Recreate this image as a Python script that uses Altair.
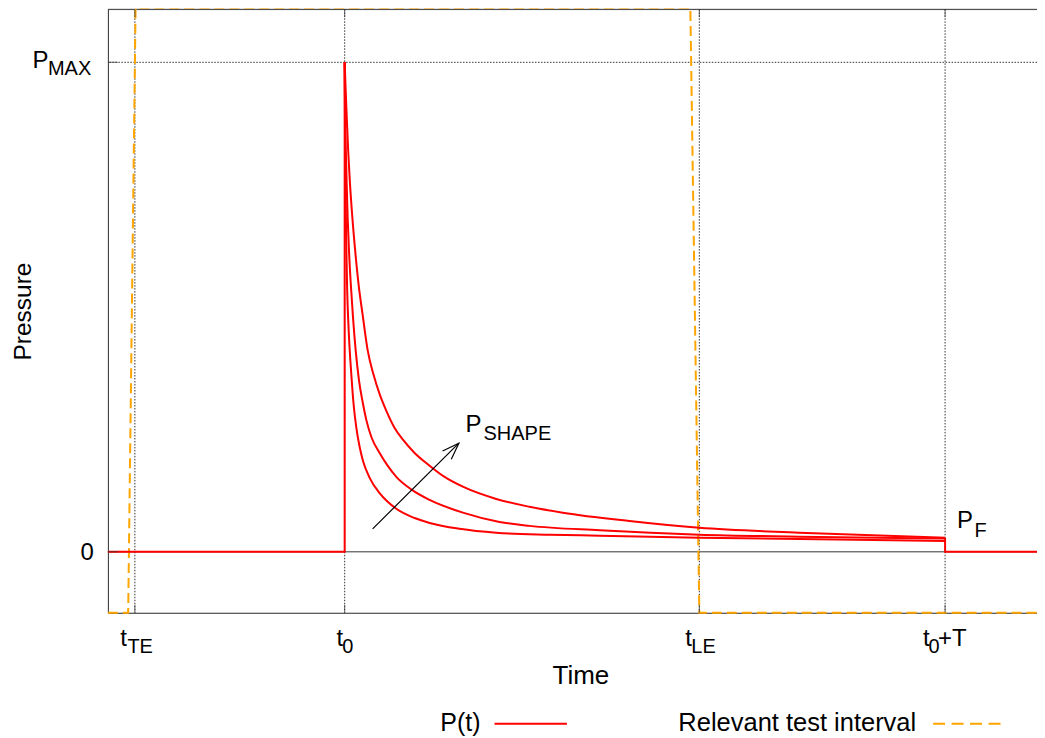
import altair as alt
import pandas as pd

FONT = "Liberation Sans"

# ---- axis ranges (arbitrary time units, pressure in % of P_MAX)
X_MIN, X_MAX = 0.0, 930.0
Y_MIN, Y_MAX = -12.45, 110.82

# ---- x ticks
tick_values = [27, 237, 592, 838]
tick_main = ["t", "t", "t", "t"]
tick_sub = ["TE", "0", "LE", "0"]
tick_main_dx = [-8, -1.5, -7.5, -15.5]
tick_sub_dx = [-7.5, -2.5, -8, -16.5]

# ---- y ticks
ytick_values = [0.0, 100.0]
P_MAX = 100.0

# ---- pressure curves (three shapes)
top_t = [237, 238, 239, 240.5, 242, 244.5, 247, 251, 255, 260, 266, 272, 278.7,
         287, 295.3, 307, 322, 337, 355.3, 388.7, 422, 455.3, 522, 592, 692, 838]
top_p = [100, 94.3, 89.2, 82.0, 76.3, 68.8, 62.7, 54.5, 48.4, 41.2, 36.1, 32.2, 28.8,
         25.3, 22.9, 20.2, 17.6, 15.3, 13.3, 10.8, 9.2, 8.0, 6.3, 4.9, 3.9, 2.9]
mid_t = [237, 237.5, 238.2, 239, 240, 241.3, 243, 245.3, 248, 251.3, 255, 258.7,
         264, 272, 280, 288.7, 304, 322, 355.3, 392, 422, 492, 592, 692, 838]
mid_p = [100, 88.8, 81.6, 75.3, 68.2, 61.6, 55.1, 48.0, 41.2, 35.1, 30.6, 26.9,
         23.3, 20.2, 17.6, 15.3, 12.7, 10.6, 8.0, 6.1, 5.3, 4.4, 3.5, 3.1, 2.7]
bot_t = [237, 237.3, 237.8, 238.5, 239.5, 241, 243.7, 246, 248.7, 252, 255.3, 262,
         272, 288.7, 307, 322, 352, 388.7, 442, 492, 592, 692, 838]
bot_p = [100, 88.2, 75.9, 63.7, 53.5, 45.3, 36.1, 30.0, 25.3, 21.4, 18.6, 15.1,
         12.0, 8.8, 6.9, 5.9, 4.7, 3.9, 3.5, 3.3, 2.9, 2.6, 2.2]

# ---- step parts of P(t)
pre_t = [0, 237, 237]
pre_p = [0, 0, 100]
post_t = [838, 838, 930]
post_p = [2.9, 0, 0]

# ---- relevant test interval (dashed)
int_t = [0, 20.3, 27.7, 583, 592, 930]
int_p = [Y_MIN, Y_MIN, 111.2, 111.2, Y_MIN, Y_MIN]

# ---- P_SHAPE arrow
arrow_t = [265, 351.3]
arrow_p = [4.7, 22.2]
head_t = [335, 351.3, 343.7]
head_p = [20.6, 22.2, 18.9]

# ---- legend
legend_labels = ["P(t)", "Relevant test interval"]

RED = "#ff0000"
ORANGE = "#ffa500"
GRID = "#333333"
FRAME = "#333333"

xs = alt.Scale(domain=[X_MIN, X_MAX], nice=False, zero=False)
ys = alt.Scale(domain=[Y_MIN, Y_MAX], nice=False, zero=False)
xaxis = alt.Axis(domain=True, domainColor=FRAME, domainWidth=1, ticks=False,
                 labels=False, grid=False, title="Time", titleFont=FONT,
                 titleFontSize=26, titleFontWeight="normal", titleColor="black",
                 titleX=473, titleY=71, titleBaseline="alphabetic",
                 titleAlign="center")
yaxis = alt.Axis(domain=True, domainColor=FRAME, domainWidth=1, ticks=False,
                 labels=False, grid=False, title="Pressure", titleFont=FONT,
                 titleFontSize=24.5, titleFontWeight="normal", titleColor="black",
                 titleAngle=270, titleX=-77, titleY=302,
                 titleBaseline="alphabetic", titleAlign="center")


def X(field="t"):
    return alt.X(f"{field}:Q", scale=xs, axis=xaxis)


def Y(field="p"):
    return alt.Y(f"{field}:Q", scale=ys, axis=yaxis)


def df(t, p, **kw):
    d = pd.DataFrame({"t": t, "p": p, "i": list(range(len(t)))})
    for k, v in kw.items():
        d[k] = v
    return d


layers = []

# dotted grid
layers.append(alt.Chart(pd.DataFrame({"t": tick_values})).mark_rule(
    color=GRID, strokeDash=[1.5, 1.5], strokeWidth=1).encode(x=X()))
layers.append(alt.Chart(pd.DataFrame({"p": [P_MAX]})).mark_rule(
    color=GRID, strokeDash=[1.5, 1.5], strokeWidth=1).encode(y=Y()))
# zero axis
layers.append(alt.Chart(pd.DataFrame({"p": [0.0]})).mark_rule(
    color=FRAME, strokeWidth=1).encode(y=Y()))
# top frame
layers.append(alt.Chart(pd.DataFrame({"p": [Y_MAX]})).mark_rule(
    color=FRAME, strokeWidth=1).encode(y=Y()))

# relevant test interval
layers.append(alt.Chart(df(int_t, int_p)).mark_line(
    color=ORANGE, strokeDash=[10, 5], strokeWidth=2, clip=False).encode(
    x=X(), y=Y(), order="i:Q"))

# P(t) step pieces
for tt, pp in [(pre_t, pre_p), (post_t, post_p)]:
    layers.append(alt.Chart(df(tt, pp)).mark_line(
        color=RED, strokeWidth=2).encode(x=X(), y=Y(), order="i:Q"))
# three decay shapes
curves = pd.concat([df(top_t, top_p, s="top"), df(mid_t, mid_p, s="mid"),
                    df(bot_t, bot_p, s="bot")])
layers.append(alt.Chart(curves).mark_line(
    color=RED, strokeWidth=2, interpolate="monotone").encode(
    x=X(), y=Y(), detail="s:N", order="i:Q"))

# arrow
layers.append(alt.Chart(df(arrow_t, arrow_p)).mark_line(
    color="black", strokeWidth=1.2).encode(x=X(), y=Y(), order="i:Q"))
layers.append(alt.Chart(df(head_t, head_p)).mark_line(
    color="black", strokeWidth=1.2).encode(x=X(), y=Y(), order="i:Q"))

# inward ticks
layers.append(alt.Chart(pd.DataFrame({"t": tick_values, "p": [Y_MIN] * 4})).mark_tick(
    orient="vertical", size=16, thickness=1, color=FRAME, clip=True).encode(x=X(), y=Y()))
layers.append(alt.Chart(pd.DataFrame({"t": tick_values, "p": [Y_MAX] * 4})).mark_tick(
    orient="vertical", size=16, thickness=1, color=FRAME, clip=True).encode(x=X(), y=Y()))
layers.append(alt.Chart(pd.DataFrame({"t": [X_MIN] * 2, "p": ytick_values})).mark_tick(
    orient="horizontal", size=20, thickness=1, color=FRAME, clip=True).encode(x=X(), y=Y()))


def text(t, p, txt, size, align, dx, dy):
    return alt.Chart(pd.DataFrame({"t": [t], "p": [p], "txt": [txt]})).mark_text(
        font=FONT, fontSize=size, align=align, baseline="alphabetic",
        dx=dx, dy=dy, color="black", clip=False).encode(x=X(), y=Y(), text="txt:N")


# x tick labels
for v, m, s, mdx, sdx in zip(tick_values, tick_main, tick_sub, tick_main_dx, tick_sub_dx):
    layers.append(text(v, Y_MIN, m, 24, "right", mdx, 33))
    layers.append(text(v, Y_MIN, s, 20, "left", sdx, 40))
layers.append(text(tick_values[3], Y_MIN, "+T", 24, "left", -7, 33))

# y tick labels
layers.append(text(X_MIN, 0.0, "0", 24, "right", -14, 8))
layers.append(text(X_MIN, P_MAX, "P", 24, "right", -59.5, 5.3))
layers.append(text(X_MIN, P_MAX, "MAX", 20, "left", -60, 13))

# annotations
layers.append(text(arrow_t[1], arrow_p[1], "P", 24, "left", 6.7, -11.3))
layers.append(text(arrow_t[1], arrow_p[1], "SHAPE", 20, "left", 24.7, -3.3))
layers.append(text(post_t[0], post_p[0], "P", 24, "left", 12, -9.8))
layers.append(text(post_t[0], post_p[0], "F", 20, "left", 29.5, -0.8))

# legend (below the plot)
legend_text = alt.Chart(pd.DataFrame({"txt": [legend_labels[0]]})).mark_text(
    font=FONT, fontSize=25, align="right", baseline="alphabetic", color="black").encode(
    x=alt.value(373), y=alt.value(722), text="txt:N")
legend_text2 = alt.Chart(pd.DataFrame({"txt": [legend_labels[1]]})).mark_text(
    font=FONT, fontSize=25.5, align="left", baseline="alphabetic", color="black").encode(
    x=alt.value(571), y=alt.value(722), text="txt:N")
legend_red = alt.Chart(pd.DataFrame({"a": [0]})).mark_rule(
    color=RED, strokeWidth=2).encode(x=alt.value(387), x2=alt.value(459.5), y=alt.value(715))
legend_orange = alt.Chart(pd.DataFrame({"a": [0]})).mark_rule(
    color=ORANGE, strokeWidth=2, strokeDash=[12, 6.5]).encode(
    x=alt.value(826), x2=alt.value(894), y=alt.value(715))
layers += [legend_text, legend_text2, legend_red, legend_orange]

chart = alt.layer(*layers).properties(
    width=930, height=604,
    autosize=alt.AutoSizeParams(type="none"),
    padding={"left": 100, "top": 1, "right": 0, "bottom": 125},
).configure_view(stroke=None).configure(background="white")

chart.save("out.html", embed_options={"renderer": "svg", "actions": False})
